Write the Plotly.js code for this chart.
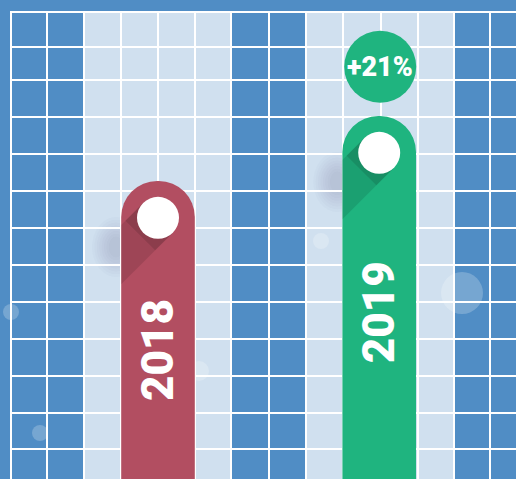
<!DOCTYPE html>
<html><head><meta charset="utf-8">
<script src="https://cdn.plot.ly/plotly-3.0.1.min.js"></script>
<style>html,body{margin:0;padding:0;background:#508DC5;}#chart{width:516px;height:479px;}</style>
</head><body><div id="chart"></div>
<script>
// ---- data ----
const years = ['2018', '2019'];
const values = [100, 121];
const barColors = ['#B24E61', '#1FB47F'];
const badgeColor = '#1FB47F';

const change = Math.round((values[1] / values[0] - 1) * 100);
const changeLabel = '+' + change + '%';

// ---- layout geometry ----
const W = 516, H = 479;
const BLUE = '#508DC5', LIGHT = '#D0E0EF';
const HALF = 36.8;          // half bar width in px
const CAT_PX = 221.2;       // px between category centres
const FIRST_PX = 158;       // px of first category centre
const xr2 = [-FIRST_PX / CAT_PX, (W - FIRST_PX) / CAT_PX];
const barWidth = 2 * HALF / CAT_PX;
const BASE_PX = 490.5, PX_PER_UNIT = 3.095;
const yr2 = [(BASE_PX - H) / PX_PER_UNIT, BASE_PX / PX_PER_UNIT];
const DOT_R = 21, BADGE_R = 36, BADGE_OFF = 49.3;

const shapes = [];
// blue columns (under grid lines)
[[0, 84], [231, 306], [453.5, W]].forEach(function (c) {
  shapes.push({type: 'rect', layer: 'below', xref: 'x', yref: 'paper', x0: c[0], x1: c[1], y0: 0, y1: 1,
    fillcolor: BLUE, line: {width: 0}});
});
// outer frame covering grid lines
shapes.push({type: 'rect', layer: 'between', xref: 'x', yref: 'y', x0: 0, x1: W, y0: 0, y1: 11, fillcolor: BLUE, line: {width: 0}});
shapes.push({type: 'rect', layer: 'between', xref: 'x', yref: 'y', x0: 0, x1: 10, y0: 0, y1: H, fillcolor: BLUE, line: {width: 0}});
// faint bubbles
[[11, 312, 8], [40, 433, 8], [199, 371, 10], [321, 241, 8], [462, 293, 21]].forEach(function (b) {
  shapes.push({type: 'circle', layer: 'between', xref: 'x', yref: 'y', x0: b[0] - b[2], x1: b[0] + b[2],
    y0: b[1] - b[2], y1: b[1] + b[2], fillcolor: 'rgba(255,255,255,0.22)', line: {width: 0}});
});

const s2 = Math.SQRT1_2 * DOT_R;
years.forEach(function (yr, i) {
  const anc = {xref: 'x2', yref: 'y2', xsizemode: 'pixel', ysizemode: 'pixel', xanchor: i, yanchor: values[i]};
  // soft outside shadow (stacked faint ellipses)
  for (let k = 0; k < 8; k++) {
    const rx = 24 - k * 2.4, ry = 30 - k * 2.8;
    shapes.push(Object.assign({type: 'circle', layer: 'below', x0: -42 - rx, x1: -42 + rx,
      y0: -66 - ry, y1: -66 + ry, fillcolor: 'rgba(40,60,90,0.018)', line: {width: 0}}, anc));
  }
  // long shadow band inside the bar
  const c = -HALF;
  const p1 = [-s2, c + s2], p2 = [s2, c - s2];
  const q1 = [-HALF, p1[1] - (p1[0] + HALF)], q2 = [-HALF, p2[1] - (p2[0] + HALF)];
  const path = 'M' + p1.join(',') + ' L' + p2.join(',') + ' L' + q2.join(',') + ' L' + q1.join(',') + ' Z';
  shapes.push(Object.assign({type: 'path', layer: 'above', path: path, fillcolor: 'rgba(0,0,0,0.11)', line: {width: 0}}, anc));
  const t = 17.7;
  const path2 = 'M' + p1.join(',') + ' L' + p2.join(',') + ' L' + [p2[0] - t, p2[1] - t].join(',') + ' L' + [p1[0] - t, p1[1] - t].join(',') + ' Z';
  shapes.push(Object.assign({type: 'path', layer: 'above', path: path2, fillcolor: 'rgba(0,0,0,0.11)', line: {width: 0}}, anc));
  // white dot
  shapes.push(Object.assign({type: 'circle', layer: 'above', x0: -DOT_R, x1: DOT_R,
    y0: c - DOT_R, y1: c + DOT_R, fillcolor: '#FFFFFF', line: {width: 0}}, anc));
});
// badge circle above last bar
shapes.push({type: 'circle', layer: 'above', xref: 'x2', yref: 'y2', xsizemode: 'pixel', ysizemode: 'pixel',
  xanchor: 1, yanchor: values[1], x0: -BADGE_R + 1, x1: BADGE_R + 1,
  y0: BADGE_OFF - BADGE_R, y1: BADGE_OFF + BADGE_R, fillcolor: badgeColor, line: {width: 0}});

const labelY = [1 - 350 / H, 1 - 312 / H];
const annotations = years.map(function (yr, i) {
  return {xref: 'x2', yref: 'paper', x: i, y: labelY[i], text: yr, showarrow: false, textangle: -90,
    xanchor: 'center', yanchor: 'middle',
    font: {family: 'Roboto, "DejaVu Sans", sans-serif', size: 44, color: '#FFFFFF', weight: 900}};
});
annotations.push({xref: 'x2', yref: 'y2', x: 1, y: values[1], yshift: BADGE_OFF, xshift: 1,
  text: changeLabel, showarrow: false, xanchor: 'center', yanchor: 'middle',
  font: {family: 'Roboto, "DejaVu Sans", sans-serif', size: 27, color: '#FFFFFF', weight: 900}});

const traces = [
  {type: 'scatter', x: [], y: [], xaxis: 'x', yaxis: 'y', hoverinfo: 'skip', showlegend: false},
  {type: 'bar', x: years, y: values, xaxis: 'x2', yaxis: 'y2', width: barWidth, hoverinfo: 'skip',
    marker: {color: barColors, cornerradius: '50%', line: {width: 0}}}
];

const axisOff = {showticklabels: false, ticks: '', zeroline: false, showline: false, fixedrange: true};
const layout = {
  width: W, height: H, margin: {l: 0, r: 0, t: 0, b: 0, pad: 0},
  paper_bgcolor: BLUE, plot_bgcolor: LIGHT, showlegend: false,
  xaxis: Object.assign({range: [0, W], showgrid: true, gridcolor: '#FFFFFF', gridwidth: 2, tickmode: 'array',
    tickvals: [11, 46.5, 84, 120.5, 157.5, 195, 231, 268.5, 306, 343, 380.5, 417.5, 453.5, 490]}, axisOff),
  yaxis: Object.assign({range: [H, 0], showgrid: true, gridcolor: '#FFFFFF', gridwidth: 2, tickmode: 'array',
    tickvals: [12, 46.5, 80, 117, 154, 191, 228, 265, 302, 339, 376, 412.5, 449, 478.5]}, axisOff),
  xaxis2: Object.assign({overlaying: 'x', anchor: 'y2', type: 'category', categoryorder: 'array', categoryarray: years,
    range: xr2, showgrid: false}, axisOff),
  yaxis2: Object.assign({overlaying: 'y', anchor: 'x2', range: yr2, showgrid: false}, axisOff),
  shapes: shapes, annotations: annotations
};
Plotly.newPlot('chart', traces, layout, {displayModeBar: false, staticPlot: true});
</script></body></html>
